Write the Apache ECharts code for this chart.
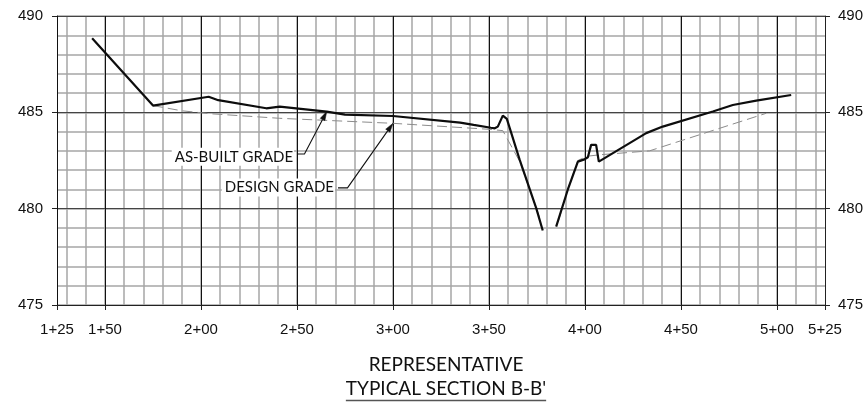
<!DOCTYPE html>
<html><head><meta charset="utf-8">
<script src="https://cdn.jsdelivr.net/npm/echarts@6/dist/echarts.min.js"></script>
<style>html,body{margin:0;padding:0;background:#fff}#c{width:866px;height:403px}</style>
</head><body><div id="c"></div>
<script>
// ---- data ----
const stationTicks = [125, 150, 200, 250, 300, 350, 400, 450, 500, 525];
const minorStations = [130,140,150,160,170,180,190,200,210,220,230,240,250,260,270,280,290,300,310,320,330,340,350,360,370,380,390,400,410,420,430,440,450,460,470,480,490,500,510,520];
const elevTicks = [475, 480, 485, 490];
const asBuiltLeft = [[143.3,488.84],[175,485.35],[204,485.81],[209,485.63],[234,485.21],[241,485.3],[265.5,485.04],[275,484.88],[300,484.81],[335,484.47],[342,484.35],[351,484.2],[353,484.17],[354.6,484.26],[357.2,484.83],[359.3,484.66],[366,482.53],[374.6,480.03],[378,478.87]];
const asBuiltRight = [[385,479.07],[391,480.97],[396.3,482.44],[399.7,482.56],[401.5,482.67],[403.2,483.31],[405.8,483.31],[407.2,482.44],[431.9,483.92],[440.5,484.26],[466.6,485.04],[477,485.38],[489.2,485.61],[507.4,485.9]];
const designLeft = [[175,485.35],[190,485.08],[206,484.92],[241,484.69],[300,484.43],[350,484.12],[357.2,484.05],[366,482.45],[374,480.2],[376.5,479.5]];
const designRight = [[386,479.3],[391,481.0],[396.3,482.5],[401,482.72],[408,482.8],[433.6,483.0],[494.4,484.95]];
const noteTexts = ['AS-BUILT GRADE', 'DESIGN GRADE'];
const titleLines = ['REPRESENTATIVE', "TYPICAL SECTION B-B'"];

const fmt = v => Math.floor(v / 100) + '+' + String(v % 100).padStart(2, '0');
const axisFont = {fontFamily: 'Liberation Sans', fontSize: 15, color: '#111'};
const noteFont = 'Lato';

const chart = echarts.init(document.getElementById('c'), null, {renderer: 'canvas'});
const baseX = {type: 'value', min: 125, max: 525, gridIndex: 0};
const baseY = {type: 'value', min: 475, max: 490, gridIndex: 0};
chart.setOption({
  animation: false,
  backgroundColor: '#fff',
  grid: {left: 57, right: 40, top: 16, bottom: 98},
  xAxis: [
    Object.assign({}, baseX, {
      position: 'bottom', z: 2,
      axisLine: {show: true, onZero: false, lineStyle: {color: '#222', width: 1}},
      axisTick: {show: true, customValues: stationTicks, length: 5, inside: false, lineStyle: {color: '#222'}},
      axisLabel: Object.assign({customValues: stationTicks, formatter: fmt, margin: 17}, axisFont),
      splitLine: {show: true, lineStyle: {color: '#111', width: 1}}
    }),
    Object.assign({}, baseX, {
      position: 'bottom', z: 0,
      axisLine: {show: false}, axisLabel: {show: false},
      axisTick: {show: false, customValues: minorStations},
      splitLine: {show: true, lineStyle: {color: '#a6a6a6', width: 1.5}}
    })
  ],
  yAxis: [
    Object.assign({}, baseY, {
      interval: 5, position: 'left', z: 1,
      axisLine: {show: true, onZero: false, lineStyle: {color: '#222', width: 1}},
      axisTick: {show: true, length: 5, lineStyle: {color: '#222'}},
      axisLabel: Object.assign({margin: 14}, axisFont),
      splitLine: {show: true, lineStyle: {color: '#444', width: 1}}
    }),
    Object.assign({}, baseY, {
      interval: 5, position: 'right', z: 2,
      axisLine: {show: true, onZero: false, lineStyle: {color: '#222', width: 1}},
      axisTick: {show: true, length: 5, lineStyle: {color: '#222'}},
      axisLabel: Object.assign({margin: 13}, axisFont),
      splitLine: {show: false}
    }),
    Object.assign({}, baseY, {
      interval: 1, position: 'left', z: 0,
      axisLine: {show: false}, axisTick: {show: false}, axisLabel: {show: false},
      splitLine: {show: true, lineStyle: {color: '#a6a6a6', width: 1.5}}
    })
  ],
  series: [
    {name: 'design-l', type: 'line', data: designLeft, symbol: 'none', z: 4, lineStyle: {color: '#8c8c8c', width: 1, type: [10, 5]}},
    {name: 'design-r', type: 'line', data: designRight, symbol: 'none', z: 4, lineStyle: {color: '#8c8c8c', width: 1, type: [10, 5]}},
    {name: 'asbuilt-l', type: 'line', data: asBuiltLeft, symbol: 'none', z: 5, lineStyle: {color: '#0d0d0d', width: 2.2}},
    {name: 'asbuilt-r', type: 'line', data: asBuiltRight, symbol: 'none', z: 5, lineStyle: {color: '#0d0d0d', width: 2.2}}
  ]
});

// ---- annotations (leaders resolved through the axes) ----
const px = p => chart.convertToPixel({xAxisIndex: 0, yAxisIndex: 0}, p);
const notes = [
  {text: noteTexts[0], tip: asBuiltLeft[6], elbow: [253.9, 482.84], textRight: [248.5, 482.69]},
  {text: noteTexts[1], tip: designLeft[4], elbow: [276.3, 481.08], textRight: [269.8, 481.1]}
];
const g = [];
notes.forEach(n => {
  const t = px(n.tip), e = px(n.elbow), tr = px(n.textRight);
  const hx = tr[0] + 3;
  const ang = Math.atan2(t[1] - e[1], t[0] - e[0]);
  const L = 9, W = 2.6;
  const bx = t[0] - L * Math.cos(ang), by = t[1] - L * Math.sin(ang);
  const nx = -Math.sin(ang) * W, ny = Math.cos(ang) * W;
  g.push({type: 'polyline', z: 20, shape: {points: [[hx, e[1]], e, [bx, by]]}, style: {stroke: '#111', lineWidth: 1.1, fill: null}});
  g.push({type: 'polygon', z: 20, shape: {points: [t, [bx + nx, by + ny], [bx - nx, by - ny]]}, style: {fill: '#111', stroke: '#111', lineWidth: 0.5}});
  g.push({type: 'text', z: 21, x: tr[0], y: tr[1], style: {text: n.text, font: '15px ' + noteFont, fill: '#111', align: 'right', verticalAlign: 'middle',
          backgroundColor: '#fff', padding: [2, 1, 1, 3]}});
});

// title
const cx = 446;
const tf = '19px ' + noteFont;
const ctx = document.createElement('canvas').getContext('2d');
ctx.font = tf;
const w2 = ctx.measureText(titleLines[1]).width;
g.push({type: 'text', z: 21, x: cx, y: 364.5, style: {text: titleLines[0], font: tf, fill: '#111', align: 'center', verticalAlign: 'middle'}});
g.push({type: 'text', z: 21, x: cx, y: 388.5, style: {text: titleLines[1], font: tf, fill: '#111', align: 'center', verticalAlign: 'middle'}});
g.push({type: 'line', z: 21, shape: {x1: cx - w2 / 2, y1: 400.5, x2: cx + w2 / 2, y2: 400.5}, style: {stroke: '#555', lineWidth: 1.3}});
chart.setOption({graphic: g});
</script>
</body></html>
